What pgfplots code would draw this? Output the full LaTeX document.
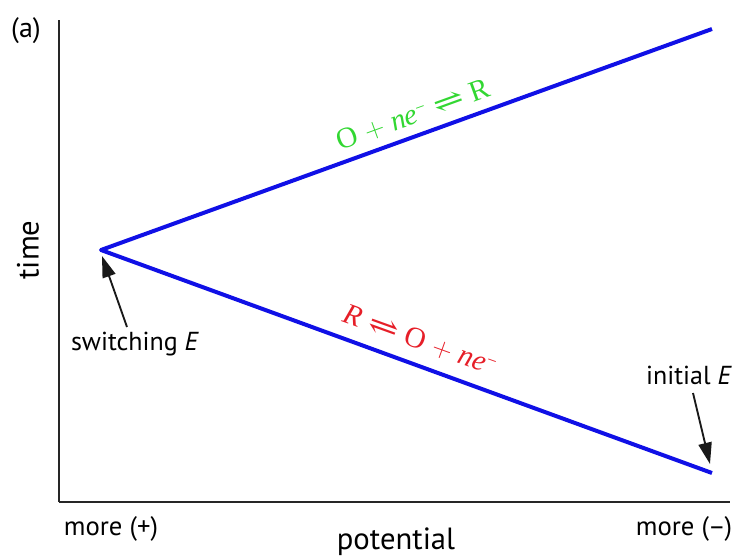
\documentclass[border=0pt]{standalone}
\usepackage{fontspec}
\setmainfont{Liberation Serif}
\newfontfamily\sans{PT Sans}
\newfontfamily\dvserif{DejaVu Serif}
\usepackage{graphicx}
\usepackage{pgfplots}
\pgfplotsset{compat=1.18}
\usetikzlibrary{arrows.meta}
\definecolor{lineblue}{RGB}{16,16,230}
\definecolor{eqgreen}{RGB}{50,215,50}
\definecolor{eqred}{RGB}{230,30,40}
\newcommand{\eqarr}{\scalebox{1.3}[1]{\dvserif\fontsize{21}{22}\selectfont ⇌}}
\newcommand{\elec}{\textit{ne}\raisebox{0.6ex}{\fontsize{13}{14}\selectfont −}}
\begin{document}
\begin{tikzpicture}
\begin{axis}[
  x=0.75pt, y=0.75pt,
  xmin=59, xmax=730, ymin=56, ymax=538,
  axis x line=bottom, axis y line=left,
  axis line style={-, line width=1.4pt, black!85},
  xtick=\empty, ytick=\empty,
  clip=false,
]
\addplot[lineblue, line width=3pt, line join=round, mark=none] coordinates {(712,85) (101,308) (712,529)};
% annotations
\draw[-{Triangle[length=16pt,width=10pt]}, line width=1.4pt, black!90] (axis cs:127,231) -- (axis cs:102,302);
\draw[-{Triangle[length=16pt,width=10pt]}, line width=1.4pt, black!90] (axis cs:693,165) -- (axis cs:710,94);
\node[font=\sans\fontsize{19.5}{21}\selectfont, anchor=center] at (axis cs:135,214) {switching \textit{E}};
\node[font=\sans\fontsize{19.5}{21}\selectfont, anchor=center] at (axis cs:689,183) {initial \textit{E}};
\node[font=\sans\fontsize{20}{22}\selectfont, anchor=center] at (axis cs:111,29) {more (+)};
\node[font=\sans\fontsize{20}{22}\selectfont, anchor=center] at (axis cs:684,29) {more (–)};
\node[font=\sans\fontsize{23}{26}\selectfont, anchor=center] at (axis cs:396,16) {potential};
\node[font=\sans\fontsize{23}{26}\selectfont, anchor=center, rotate=90] at (axis cs:28,308) {time};
\node[font=\sans\fontsize{21}{24}\selectfont, anchor=center] at (axis cs:26,527) {(a)};
\node[text=eqgreen, rotate=19.9, anchor=center, font=\fontsize{22}{24}\selectfont] at (axis cs:413,443)
  {O\;$+$\;\elec\;\eqarr\;R};
\node[text=eqred, rotate=-19.8, anchor=center, font=\fontsize{22}{24}\selectfont] at (axis cs:420,218)
  {\textit{R}\;\eqarr\;O\;$+$\;\elec};
\coordinate (BL) at (axis cs:0,0);
\coordinate (TR) at (axis cs:733,558);
\end{axis}
\pgfresetboundingbox
\path[use as bounding box] (BL) rectangle (TR);
\end{tikzpicture}
\end{document}
